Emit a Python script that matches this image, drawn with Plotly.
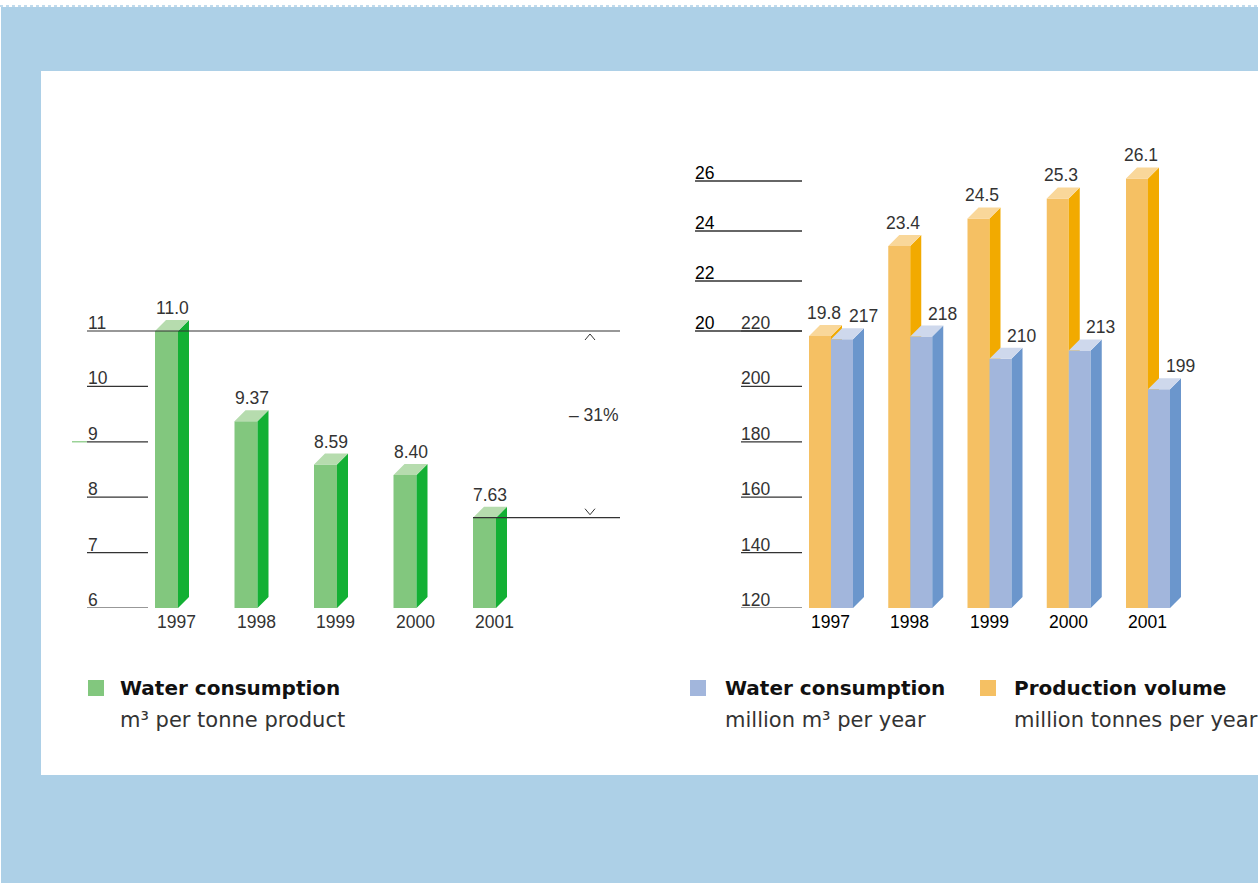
import plotly.graph_objects as go

# ---------------- data ----------------
years = ["1997", "1998", "1999", "2000", "2001"]
water_per_tonne = [11.0, 9.37, 8.59, 8.40, 7.63]
water_per_tonne_labels = ["11.0", "9.37", "8.59", "8.40", "7.63"]
production_volume = [19.8, 23.4, 24.5, 25.3, 26.1]
production_labels = ["19.8", "23.4", "24.5", "25.3", "26.1"]
water_volume = [217, 218, 210, 213, 199]
water_volume_labels = ["217", "218", "210", "213", "199"]
left_ticks = [6, 7, 8, 9, 10, 11]
prod_ticks = [20, 22, 24, 26]
water_ticks = [120, 140, 160, 180, 200, 220]
change_label = "– 31%"

# ---------------- layout constants ----------------
W, H = 1258, 883
def pxf(x):
    return x / W
def pyf(y):
    return 1 - y / H

TOP_PX, BOT_PX = 140, 608
DEPTH = 11  # px

GREEN_FRONT, GREEN_SIDE, GREEN_TOP = "#82C77E", "#13B034", "#B6DCAE"
ORANGE_FRONT, ORANGE_SIDE, ORANGE_TOP = "#F5C063", "#F2AA00", "#F9D79A"
BLUE_FRONT, BLUE_SIDE, BLUE_TOP = "#A2B6DC", "#6B96CC", "#CED8EC"
BG_BLUE = "#ADD0E7"
LINE_C = "#333333"

FAM = "Liberation Sans, Arial, sans-serif"
NUM_FONT = dict(family=FAM, size=17.5, color="#333333")
TICK_FONT = dict(family=FAM, size=17.5, color="#333333")
DARK_FONT = dict(family=FAM, size=17.5, color="#000000")

# left chart scales
L_X0, L_STEP = 166.5, 79.5          # px of bar centre 0, px per index
L_W = 23 / L_STEP
L_DX = DEPTH / L_STEP
L_PPU = 55.4                        # px per unit (y)
L_YR = [6, 6 + (BOT_PX - TOP_PX) / L_PPU]
L_DY = DEPTH / L_PPU
L_XR = [(41 - L_X0) / L_STEP, (660 - L_X0) / L_STEP]

# right chart scales
R_X0, R_STEP = 831, 79.25
R_W = 22 / R_STEP
R_DX = DEPTH / R_STEP
R_XR = [(660 - R_X0) / R_STEP, (W - R_X0) / R_STEP]
P_PPU = 25.0
P_YR = [20 - (BOT_PX - 331) / P_PPU, 20 + (331 - TOP_PX) / P_PPU]
P_DY = DEPTH / P_PPU
V_PPU = 2.77
V_YR = [120, 220 + (331 - TOP_PX) / V_PPU]
V_DY = DEPTH / V_PPU

fig = go.Figure()


def add_bars(xa, ya, centers, values, base, w, dx, dy, front, side, top):
    fig.add_trace(go.Bar(
        x=centers, y=[v - base for v in values], base=base, width=w,
        marker=dict(color=front, line=dict(width=0)),
        xaxis=xa, yaxis=ya, hoverinfo="skip", showlegend=False))
    sx, sy, tx, ty = [], [], [], []
    for c, v in zip(centers, values):
        xl, xr = c - w / 2, c + w / 2
        sx += [xr, xr + dx, xr + dx, xr, xr, None]
        sy += [base, base + dy, v + dy, v, base, None]
        tx += [xl, xl + dx, xr + dx, xr, xl, None]
        ty += [v, v + dy, v + dy, v, v, None]
    for X, Y, col in ((sx, sy, side), (tx, ty, top)):
        fig.add_trace(go.Scatter(
            x=X, y=Y, fill="toself", fillcolor=col, mode="lines",
            line=dict(width=0, color=col), xaxis=xa, yaxis=ya,
            hoverinfo="skip", showlegend=False))


idx = list(range(len(years)))

# left chart bars
add_bars("x", "y", idx, water_per_tonne, L_YR[0], L_W, L_DX, L_DY,
         GREEN_FRONT, GREEN_SIDE, GREEN_TOP)

# right chart bars
orange_c = [i - R_W / 2 for i in idx]
blue_c = [i + R_W / 2 for i in idx]
add_bars("x2", "y2", orange_c, production_volume, P_YR[0], R_W, R_DX, P_DY,
         ORANGE_FRONT, ORANGE_SIDE, ORANGE_TOP)
add_bars("x2", "y3", blue_c, water_volume, V_YR[0], R_W, R_DX, V_DY,
         BLUE_FRONT, BLUE_SIDE, BLUE_TOP)

# chevrons marking the change
chev_x = (590 - L_X0) / L_STEP
chev_hw = 5 / L_STEP
top_v, bot_v = water_per_tonne[0], water_per_tonne[-1]
fig.add_trace(go.Scatter(
    x=[chev_x - chev_hw, chev_x, chev_x + chev_hw, None,
       chev_x - chev_hw, chev_x, chev_x + chev_hw],
    y=[top_v - 9 / L_PPU, top_v - 3 / L_PPU, top_v - 9 / L_PPU, None,
       bot_v + 9 / L_PPU, bot_v + 3 / L_PPU, bot_v + 9 / L_PPU],
    mode="lines", line=dict(color=LINE_C, width=1),
    xaxis="x", yaxis="y", hoverinfo="skip", showlegend=False))

shapes = []
annotations = []

# backgrounds
shapes.append(dict(type="rect", xref="paper", yref="paper", x0=pxf(1), x1=1, y0=0, y1=pyf(7),
                   fillcolor=BG_BLUE, line=dict(width=0), layer="below"))
shapes.append(dict(type="rect", xref="paper", yref="paper", x0=pxf(41), x1=1, y0=pyf(775), y1=pyf(71),
                   fillcolor="white", line=dict(width=0), layer="below"))
shapes.append(dict(type="line", xref="paper", yref="paper", x0=0, x1=1, y0=pyf(6), y1=pyf(6),
                   line=dict(color=BG_BLUE, width=1.5, dash="dot"), layer="below"))

# left gridlines and tick labels
for t in left_ticks:
    x1 = 620 if t == left_ticks[-1] else 148
    shapes.append(dict(type="line", xref="paper", yref="y", x0=pxf(87), x1=pxf(x1), y0=t, y1=t,
                       line=dict(color=LINE_C, width=1.2)))
    annotations.append(dict(xref="paper", yref="y", x=pxf(86), y=t, text=str(t), showarrow=False,
                            xanchor="left", yanchor="bottom", yshift=-4, font=TICK_FONT))
shapes.append(dict(type="line", xref="paper", yref="y", x0=pxf(72), x1=pxf(87), y0=9, y1=9,
                   line=dict(color=GREEN_FRONT, width=1.2)))
# line at last value
shapes.append(dict(type="line", xref="x", yref="y", x0=idx[-1] - L_W / 2, x1=(620 - L_X0) / L_STEP,
                   y0=bot_v, y1=bot_v, line=dict(color=LINE_C, width=1.2)))
annotations.append(dict(xref="paper", yref="y", x=pxf(621), y=(top_v + bot_v) / 2, text=change_label,
                        showarrow=False, xanchor="right", yanchor="middle", yshift=9, font=NUM_FONT))

# left value and year labels
for i, v, lab, yr in zip(idx, water_per_tonne, water_per_tonne_labels, years):
    annotations.append(dict(xref="x", yref="y", x=i + L_DX / 2, y=v, text=lab, showarrow=False,
                            xanchor="center", yanchor="bottom", yshift=DEPTH, font=NUM_FONT))
    annotations.append(dict(xref="x", yref="y", x=i - L_W / 2, y=L_YR[0], text=yr, showarrow=False,
                            xanchor="left", yanchor="top", yshift=-2, font=NUM_FONT))

# right gridlines and tick labels
for t in prod_ticks:
    shapes.append(dict(type="line", xref="paper", yref="y2", x0=pxf(695), x1=pxf(802), y0=t, y1=t,
                       line=dict(color=LINE_C, width=1.5)))
    annotations.append(dict(xref="paper", yref="y2", x=pxf(693), y=t, text=str(t), showarrow=False,
                            xanchor="left", yanchor="bottom", yshift=-4, font=DARK_FONT))
for t in water_ticks:
    shapes.append(dict(type="line", xref="paper", yref="y3", x0=pxf(741), x1=pxf(802), y0=t, y1=t,
                       line=dict(color=LINE_C, width=1.2)))
    annotations.append(dict(xref="paper", yref="y3", x=pxf(739), y=t, text=str(t), showarrow=False,
                            xanchor="left", yanchor="bottom", yshift=-4, font=TICK_FONT))

for i, oc, bc, pv, plab, wv, wlab, yr in zip(idx, orange_c, blue_c, production_volume,
                                             production_labels, water_volume, water_volume_labels, years):
    annotations.append(dict(xref="x2", yref="y2", x=oc + R_DX / 2 - 2 / R_STEP, y=pv, text=plab,
                            showarrow=False, xanchor="center", yanchor="bottom", yshift=DEPTH,
                            font=NUM_FONT))
    annotations.append(dict(xref="x2", yref="y3", x=bc + R_W / 2 + R_DX - 1 / R_STEP, y=wv, text=wlab,
                            showarrow=False, xanchor="center", yanchor="bottom", yshift=DEPTH,
                            font=NUM_FONT))
    annotations.append(dict(xref="x2", yref="y2", x=oc - R_W / 2, y=P_YR[0], text=yr,
                            showarrow=False, xanchor="left", yanchor="top", yshift=-2, font=DARK_FONT))

# legends
TITLE_FONT = dict(family="DejaVu Sans, sans-serif", size=20, color="#111111", weight="bold")
SUB_FONT = dict(family="DejaVu Sans, sans-serif", size=21, color="#333333")
legend_items = [
    (88, 120, GREEN_FRONT, "Water consumption", "m³ per tonne product"),
    (690, 725, BLUE_FRONT, "Water consumption", "million m³ per year"),
    (980, 1014, ORANGE_FRONT, "Production volume", "million tonnes per year"),
]
for sq_x, tx, col, title, sub in legend_items:
    shapes.append(dict(type="rect", xref="paper", yref="paper", x0=pxf(sq_x), x1=pxf(sq_x + 16),
                       y0=pyf(696), y1=pyf(680), fillcolor=col, line=dict(width=0)))
    annotations.append(dict(xref="paper", yref="paper", x=pxf(tx - 2), y=pyf(688), text=title,
                            showarrow=False, xanchor="left", yanchor="middle", font=TITLE_FONT))
    annotations.append(dict(xref="paper", yref="paper", x=pxf(tx - 2), y=pyf(720), text=sub,
                            showarrow=False, xanchor="left", yanchor="middle", font=SUB_FONT))

ydom = [pyf(BOT_PX), pyf(TOP_PX)]
hidden = dict(visible=False, showgrid=False, zeroline=False, fixedrange=True)
fig.update_layout(
    width=W, height=H, autosize=False,
    margin=dict(l=0, r=0, t=0, b=0),
    paper_bgcolor="white", plot_bgcolor="rgba(0,0,0,0)",
    barmode="overlay", showlegend=False,
    xaxis=dict(domain=[pxf(41), pxf(660)], range=L_XR, **hidden),
    yaxis=dict(domain=ydom, range=L_YR, anchor="x", **hidden),
    xaxis2=dict(domain=[pxf(660), 1], range=R_XR, anchor="y2", **hidden),
    yaxis2=dict(domain=ydom, range=P_YR, anchor="x2", **hidden),
    yaxis3=dict(domain=ydom, range=V_YR, anchor="x2", overlaying="y2", **hidden),
    shapes=shapes, annotations=annotations,
)

fig.write_html("out.html", config=dict(displayModeBar=False, staticPlot=True))
